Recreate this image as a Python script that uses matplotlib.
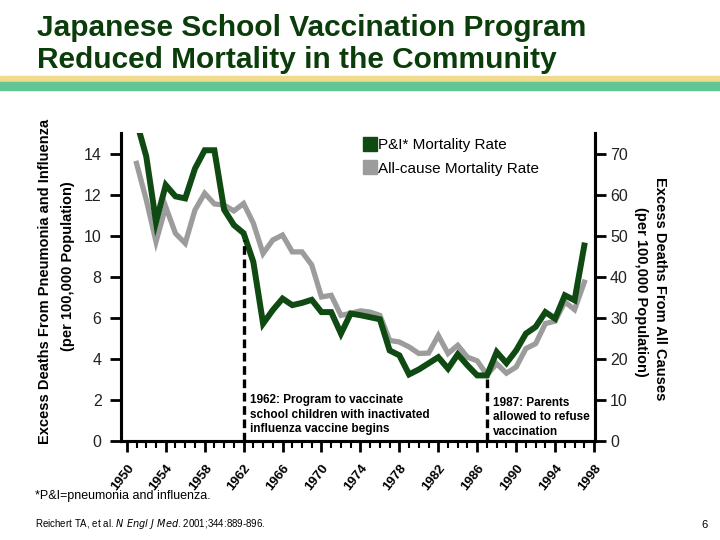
"""Japanese school vaccination program - excess deaths chart"""
import numpy as np
import matplotlib.pyplot as plt
from matplotlib.lines import Line2D

plt.rcParams['font.family'] = ['Liberation Sans', 'DejaVu Sans']

# Data
years = list(range(1951, 1998))
pi_rate = [15.6, 13.9, 10.7, 12.5, 11.95, 11.85, 13.3, 14.2, 14.2, 11.3,
           10.55, 10.15, 8.75, 5.74, 6.4, 6.96, 6.64, 6.75, 6.9, 6.3,
           6.3, 5.25, 6.23, 6.15, 6.05, 5.95, 4.43, 4.19, 3.26, 3.5,
           3.8, 4.1, 3.54, 4.24, 3.7, 3.21, 3.21, 4.35, 3.81, 4.43,
           5.25, 5.58, 6.3, 5.98, 7.12, 6.88, 9.55]
allcause_rate = [67.8, 58.9, 48.7, 57.2, 50.7, 48.3, 56.4, 60.5, 57.9, 57.6,
                 56.2, 58.0, 53.2, 45.8, 49.1, 50.3, 46.2, 46.2, 43.0, 35.2,
                 35.6, 30.7, 31.2, 31.8, 31.5, 30.7, 24.6, 24.2, 23.0, 21.4,
                 21.5, 25.8, 21.4, 23.4, 20.5, 19.6, 16.2, 18.9, 16.6, 18.1,
                 22.6, 23.8, 28.7, 29.3, 34.0, 32.1, 38.8]

event_years = [1962, 1987]
event_tops = [9.8, 3.2]
event_texts = ['1962: Program to vaccinate\nschool children with inactivated\ninfluenza vaccine begins',
               '1987: Parents\nallowed to refuse\nvaccination']

left_ticks = [0, 2, 4, 6, 8, 10, 12, 14]
right_ticks = [0, 10, 20, 30, 40, 50, 60, 70]
x_major = list(range(1950, 1999, 4))

GREEN = '#0e4a12'
GRAY = '#9c9c9c'
TITLE_GREEN = '#0b3d0b'

fig = plt.figure(figsize=(7.2, 5.4), dpi=100)

# title and coloured bands
fig.text(0.052, 0.975, 'Japanese School Vaccination Program\nReduced Mortality in the Community',
         fontsize=21.5, fontweight='bold', color=TITLE_GREEN, va='top', ha='left',
         linespacing=1.2)
fig.patches.append(plt.Rectangle((0, 0.848), 1, 0.011, transform=fig.transFigure,
                                 color='#f2da8c', zorder=0))
fig.patches.append(plt.Rectangle((0, 0.833), 1, 0.015, transform=fig.transFigure,
                                 color='#62c694', zorder=0))

ax = fig.add_axes([0.168, 0.183, 0.658, 0.571])
ax2 = ax.twinx()
ax.set_zorder(ax2.get_zorder() + 1)
ax.patch.set_visible(False)

ax2.plot(years, allcause_rate, color=GRAY, linewidth=3.8, solid_joinstyle='miter')
ax.plot(years, pi_rate, color=GREEN, linewidth=4.3, solid_joinstyle='miter')

for yr, top in zip(event_years, event_tops):
    ax.vlines(yr, 0, top, colors='black', linestyles=(0, (2.6, 1.4)), linewidth=2.4)

ax.text(1962.7, 2.3, event_texts[0], fontsize=8.5, fontweight='bold', va='top', ha='left',
        linespacing=1.3)
ax.text(1987.6, 2.17, event_texts[1], fontsize=8.5, fontweight='bold', va='top', ha='left',
        linespacing=1.3)

ax.set_xlim(1949.4, 1998.07)
ax.set_ylim(0, 15.05)
ax2.set_ylim(0, 75.25)

for a in (ax, ax2):
    a.spines['top'].set_visible(False)
    for s in ('left', 'right', 'bottom'):
        a.spines[s].set_linewidth(2.2)

ax.set_yticks(left_ticks)
ax.set_yticklabels([str(t) for t in left_ticks], fontsize=11.5, color='#222222')
ax2.set_yticks(right_ticks)
ax2.set_yticklabels([str(t) for t in right_ticks], fontsize=11.5, color='#222222')
ax.tick_params(axis='y', length=8, width=2, pad=6)
ax2.tick_params(axis='y', length=8, width=2, pad=3)

ax.set_xticks(x_major)
ax.set_xticks(range(1950, 1999), minor=True)
ax.set_xticklabels([str(y) for y in x_major], fontsize=9.5, fontweight='bold',
                   rotation=52, ha='right', va='top', rotation_mode='anchor')
ax.tick_params(axis='x', which='major', length=8, width=2, pad=7)
ax.tick_params(axis='x', which='minor', length=5, width=1.5)

# legend
handles = [Line2D([], [], marker='s', linestyle='none', color=GREEN, markersize=9.5),
           Line2D([], [], marker='s', linestyle='none', color=GRAY, markersize=9.5)]
fig.legend(handles, ['P&I* Mortality Rate', 'All-cause Mortality Rate'],
           loc='upper left', bbox_to_anchor=(0.495, 0.755), frameon=False,
           fontsize=11, handletextpad=0.0, handlelength=1.0, labelspacing=0.6,
           borderaxespad=0)

# axis titles
fig.text(0.062, 0.479, 'Excess Deaths From Pneumonia and Influenza', rotation=90,
         fontsize=10.5, fontweight='bold', ha='center', va='center')
fig.text(0.094, 0.508, '(per 100,000 Population)', rotation=90,
         fontsize=10.5, fontweight='bold', ha='center', va='center')
fig.text(0.917, 0.465, 'Excess Deaths From All Causes', rotation=-90,
         fontsize=10.5, fontweight='bold', ha='center', va='center')
fig.text(0.890, 0.46, '(per 100,000 Population)', rotation=-90,
         fontsize=10.5, fontweight='bold', ha='center', va='center')

# footer
fig.text(0.049, 0.082, '*P&I=pneumonia and influenza.', fontsize=9, ha='left', va='center')
fig.text(0.049, 0.030, r'Reichert TA, et al. $\it{N\ Engl\ J\ Med}$. 2001;344:889-896.',
         fontsize=7, ha='left', va='center')
fig.text(0.978, 0.028, '6', fontsize=8, ha='center', va='center')

plt.savefig('out.png', dpi=100)
